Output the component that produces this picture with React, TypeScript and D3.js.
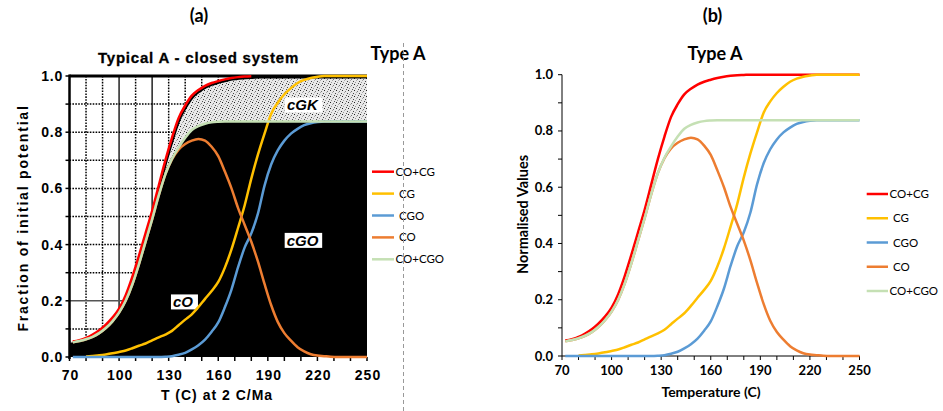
import React from 'react';
import * as d3 from 'd3';

// ---------- data ----------
const temps = [72, 76, 80, 84, 88, 92, 96, 100, 104, 108, 112, 116, 120, 124, 128, 132, 136, 140, 144, 148, 152, 156, 160, 164, 168, 172, 176, 180, 184, 188, 192, 196, 200, 204, 208, 212, 216, 220, 224, 228, 232, 236, 240, 244, 248, 250];

const coCg = [0.055, 0.06, 0.068, 0.08, 0.095, 0.115, 0.14, 0.172, 0.22, 0.285, 0.36, 0.44, 0.52, 0.61, 0.7, 0.78, 0.85, 0.895, 0.93, 0.95, 0.965, 0.975, 0.982, 0.988, 0.993, 0.996, 0.998, 0.999, 1, 1, 1, 1, 1, 1, 1, 1, 1, 1, 1, 1, 1, 1, 1, 1, 1, 1];

const cg = [null, null, 0.002, 0.004, 0.006, 0.009, 0.013, 0.018, 0.023, 0.031, 0.04, 0.048, 0.059, 0.07, 0.08, 0.093, 0.113, 0.133, 0.152, 0.178, 0.207, 0.235, 0.267, 0.318, 0.383, 0.46, 0.54, 0.635, 0.72, 0.795, 0.865, 0.905, 0.935, 0.957, 0.975, 0.986, 0.993, 0.997, 1, 1, 1, 1, 1, 1, 1, 1];

const cgo = [0, 0, 0, 0, 0, 0, 0, 0, 0, 0, 0, 0, 0, 0, 0.001, 0.003, 0.008, 0.015, 0.027, 0.042, 0.062, 0.09, 0.123, 0.177, 0.24, 0.32, 0.39, 0.44, 0.51, 0.61, 0.685, 0.735, 0.77, 0.795, 0.812, 0.825, 0.832, 0.836, 0.838, 0.838, 0.838, 0.838, 0.838, 0.838, 0.838, 0.838];

const co = [0.052, 0.057, 0.063, 0.072, 0.085, 0.103, 0.127, 0.158, 0.2, 0.258, 0.33, 0.41, 0.49, 0.575, 0.65, 0.703, 0.738, 0.758, 0.77, 0.776, 0.77, 0.748, 0.715, 0.66, 0.6, 0.53, 0.47, 0.41, 0.34, 0.26, 0.185, 0.125, 0.085, 0.058, 0.035, 0.02, 0.01, 0.005, 0.003, 0.001, 0, 0, 0, 0, 0, 0];

const coCgo = [0.052, 0.057, 0.063, 0.072, 0.085, 0.103, 0.127, 0.158, 0.2, 0.258, 0.33, 0.41, 0.49, 0.575, 0.65, 0.705, 0.745, 0.78, 0.808, 0.822, 0.83, 0.835, 0.837, 0.838, 0.838, 0.838, 0.838, 0.838, 0.838, 0.838, 0.838, 0.838, 0.838, 0.838, 0.838, 0.838, 0.838, 0.838, 0.838, 0.838, 0.838, 0.838, 0.838, 0.838, 0.838, 0.838];

const seriesNames = ['CO+CG', 'CG', 'CGO', 'CO', 'CO+CGO'];
const seriesValues = [coCg, cg, cgo, co, coCgo];
const seriesColors = ['#FF0000', '#FFC000', '#5B9BD5', '#ED7D31', '#C5E0B4'];

const xTicks = [70, 100, 130, 160, 190, 220, 250];
const yTicks = [0, 0.2, 0.4, 0.6, 0.8, 1.0];
const xDomain = [70, 250];

const leftTitle = 'Typical A - closed system';
const leftXLabel = 'T (C) at 2 C/Ma';
const leftYLabel = 'Fraction of initial potential';
const rightTitle = 'Type A';
const rightXLabel = 'Temperature (C)';
const rightYLabel = 'Normalised Values';
// region annotations of the scanned panel (anchor in data units)
const regionText = ['cGK', 'cGO', 'cO'];
const regionT = [201.6, 201.4, 132.6];
const regionV = [0.897, 0.415, 0.196];

type Pt = { t: number; v: number | null };
const toPts = (vals: (number | null)[]): Pt[] => temps.map((t, i) => ({ t, v: vals[i] }));

const SCAN = "'Liberation Sans', Arial, sans-serif";
const XL = "Lato, 'Liberation Sans', sans-serif";

export default function App() {
  const W = 943, H = 411;
  const xL = d3.scaleLinear().domain(xDomain).range([69.5, 367]);
  const yL = d3.scaleLinear().domain([0, 1]).range([357, 76]);
  const xR = d3.scaleLinear().domain(xDomain).range([562, 859.5]);
  const yR = d3.scaleLinear().domain([0, 1]).range([356, 74.7]);

  const mkLine = (x: any, y: any) =>
    d3.line<Pt>().defined(d => d.v != null).x(d => x(d.t)).y(d => y(d.v as number)).curve(d3.curveMonotoneX);

  const lineL = mkLine(xL, yL);
  const lineR = mkLine(xR, yR);

  const greenPts = toPts(coCgo);
  const redPts = toPts(coCg);
  const extGreen = [{ t: xDomain[0], v: coCgo[0] }, ...greenPts];
  const extRed = [{ t: xDomain[0], v: coCg[0] }, ...redPts];
  const blackArea = d3.area<Pt>().x(d => xL(d.t)).y0(yL(0)).y1(d => yL(d.v as number)).curve(d3.curveMonotoneX);
  const stipArea = d3.area<any>()
    .x(d => xL(d.t)).y0(d => yL(d.g)).y1(d => yL(d.r)).curve(d3.curveMonotoneX);
  const stipData = extGreen.map((g, i) => ({ t: g.t, g: g.v, r: extRed[i].v }));

  const gridX = d3.range(80, 250, 10);
  const gridY = d3.range(1, 10).map(i => i / 10);
  const minorX = d3.range(70, 251, 10);
  const minorY = d3.range(0, 11).map(i => i / 10);

  const legendLeftY = (i: number) => 171.7 + i * 21.9;
  const legendRightY = (i: number) => 194 + i * 24.25;

  const dots = [[0, 0, '#222'], [3, 1, '#777'], [5, 3, '#444'], [1, 4, '#999'], [4, 5, '#555'], [2, 2, '#aaa']];

  return (
    <svg width={W} height={H} style={{ position: 'absolute', left: 0, top: 0, background: '#fff' }}>
      <defs>
        <pattern id="stip" width="6" height="6" patternUnits="userSpaceOnUse">
          <rect width="6" height="6" fill="#e8e8e8" />
          {dots.map((d, i) => <rect key={i} x={d[0] as number} y={d[1] as number} width="1" height="1" fill={d[2] as string} />)}
        </pattern>
        <clipPath id="clipL">
          <rect x={xL(70)} y={yL(1)} width={xL(250) - xL(70)} height={yL(0) - yL(1)} />
        </clipPath>
      </defs>

      {/* panel letters */}
      <text x={199} y={22} textAnchor="middle" fontFamily={XL} fontWeight="bold" fontSize={18}>(a)</text>
      <text x={712.5} y={22} textAnchor="middle" fontFamily={XL} fontWeight="bold" fontSize={18}>(b)</text>

      {/* ================= LEFT PANEL ================= */}
      <g clipPath="url(#clipL)">
        {gridX.map(t => (
          <line key={'gx' + t} x1={xL(t)} x2={xL(t)} y1={yL(1)} y2={yL(0)}
            stroke={t === 100 || t === 120 ? '#222' : '#000'} strokeWidth={1.5}
            strokeDasharray={t === 100 || t === 120 ? undefined : '1.6,1.3'} />
        ))}
        {gridY.map(v => (
          <line key={'gy' + v} x1={xL(70)} x2={xL(250)} y1={yL(v)} y2={yL(v)}
            stroke={Math.abs(v - 0.2) < 1e-6 ? '#555' : '#000'} strokeWidth={1.5}
            strokeDasharray={Math.abs(v - 0.2) < 1e-6 ? undefined : '1.6,1.3'} />
        ))}
        <path d={stipArea(stipData) || ''} fill="url(#stip)" />
        <path d={blackArea(extGreen) || ''} fill="#000" />
        <path d={lineL(redPts) || ''} fill="none" stroke="#000" strokeWidth={2.2} transform="translate(1,1.5)" />
      </g>

      {/* left axes */}
      <line x1={xL(70)} x2={xL(250)} y1={yL(1)} y2={yL(1)} stroke="#000" strokeWidth={3} />
      <line x1={xL(70)} x2={xL(70)} y1={yL(1) - 1.5} y2={yL(0) + 2} stroke="#000" strokeWidth={2.5} />
      {minorY.map(v => (
        <line key={'lty' + v} x1={xL(70) - 4} x2={xL(70)} y1={yL(v)} y2={yL(v)} stroke="#000" strokeWidth={1.5} />
      ))}
      {minorX.map(t => (
        <line key={'ltx' + t} x1={xL(t)} x2={xL(t)} y1={yL(0)} y2={yL(0) + 4} stroke="#000" strokeWidth={1.5} />
      ))}
      {yTicks.map(v => (
        <text key={'lyl' + v} x={63} y={yL(v) + 5} textAnchor="end" fontFamily={SCAN} fontWeight="bold"
          fontSize={14} letterSpacing={0.8}>{v.toFixed(1)}</text>
      ))}
      {xTicks.map(t => (
        <text key={'lxl' + t} x={xL(t) + 1} y={380} textAnchor="middle" fontFamily={SCAN} fontWeight="bold"
          fontSize={14} letterSpacing={1}>{t}</text>
      ))}
      <text x={217} y={400} textAnchor="middle" fontFamily={SCAN} fontWeight="bold" fontSize={14} letterSpacing={1}>{leftXLabel}</text>
      <text transform={`translate(28,218) rotate(-90)`} textAnchor="middle" fontFamily={SCAN} fontWeight="bold"
        fontSize={14} letterSpacing={1.8}>{leftYLabel}</text>
      <text x={198.5} y={63} textAnchor="middle" fontFamily={SCAN} fontWeight="bold" fontSize={15} letterSpacing={0.8}
        stroke="#000" strokeWidth={0.3}>{leftTitle}</text>

      {/* region labels */}
      {regionText.map((txt, i) => {
        const lx = xL(regionT[i]);
        const cy = yL(regionV[i]);
        const w = txt.length * 10.5 + 6;
        return (
          <g key={txt}>
            <rect x={lx - 2} y={cy - 7.5} width={w} height={15} fill="#fff" />
            <text x={lx} y={cy + 5.5} fontFamily={SCAN} fontWeight="bold"
              fontStyle="italic" fontSize={15} fill="#000">{txt}</text>
          </g>
        );
      })}

      {/* left overlaid curves */}
      {seriesValues.map((vals, i) => {
        const pts = toPts(vals).filter(p => i !== 0 || p.t <= 180);
        return <path key={'lc' + i} d={lineL(pts) || ''} fill="none" stroke={seriesColors[i]} strokeWidth={2.5} />;
      })}

      {/* left legend */}
      {seriesNames.map((n, i) => (
        <g key={'ll' + n}>
          <line x1={372} x2={394} y1={legendLeftY(i)} y2={legendLeftY(i)} stroke={seriesColors[i]} strokeWidth={2.5} />
          <text x={n.includes('+') ? 395.5 : 399} y={legendLeftY(i) + 4} fontFamily={XL} fontSize={11.5}>{n}</text>
        </g>
      ))}

      {/* divider */}
      <text x={398} y={60} textAnchor="middle" fontFamily={XL} fontWeight="bold" fontSize={18}>{rightTitle}</text>
      <line x1={403.5} x2={403.5} y1={43} y2={411} stroke="#999" strokeWidth={1} strokeDasharray="4,3" />

      {/* ================= RIGHT PANEL ================= */}
      <text x={715} y={60} textAnchor="middle" fontFamily={XL} fontWeight="bold" fontSize={18}>{rightTitle}</text>
      <line x1={xR(70)} x2={xR(70)} y1={yR(1)} y2={yR(0)} stroke="#000" strokeWidth={1} />
      <line x1={xR(70)} x2={xR(250)} y1={yR(0)} y2={yR(0)} stroke="#000" strokeWidth={1} />
      {minorY.map(v => (
        <line key={'rty' + v} x1={xR(70) - 4} x2={xR(70)} y1={yR(v)} y2={yR(v)} stroke="#000" strokeWidth={1} />
      ))}
      {minorX.map(t => (
        <line key={'rtx' + t} x1={xR(t)} x2={xR(t)} y1={yR(0)} y2={yR(0) + 4} stroke="#000" strokeWidth={1} />
      ))}
      {yTicks.map(v => (
        <text key={'ryl' + v} x={553} y={yR(v) + 4.5} textAnchor="end" fontFamily={XL} fontWeight="bold" fontSize={13}>{v.toFixed(1)}</text>
      ))}
      {xTicks.map(t => (
        <text key={'rxl' + t} x={xR(t)} y={375} textAnchor="middle" fontFamily={XL} fontWeight="bold" fontSize={13}>{t}</text>
      ))}
      <text x={711} y={397} textAnchor="middle" fontFamily={XL} fontWeight="bold" fontSize={14}>{rightXLabel}</text>
      <text transform={`translate(528,214.5) rotate(-90)`} textAnchor="middle" fontFamily={XL} fontWeight="bold" fontSize={14.5}>{rightYLabel}</text>

      {seriesValues.map((vals, i) => (
        <path key={'rc' + i} d={lineR(toPts(vals)) || ''} fill="none" stroke={seriesColors[i]} strokeWidth={2.5} />
      ))}

      {seriesNames.map((n, i) => (
        <g key={'rl' + n}>
          <line x1={866.7} x2={888} y1={legendRightY(i)} y2={legendRightY(i)} stroke={seriesColors[i]} strokeWidth={2.5} />
          <text x={n.includes('+') ? 889.5 : 893} y={legendRightY(i) + 4} fontFamily={XL} fontSize={11.5}>{n}</text>
        </g>
      ))}
    </svg>
  );
}
